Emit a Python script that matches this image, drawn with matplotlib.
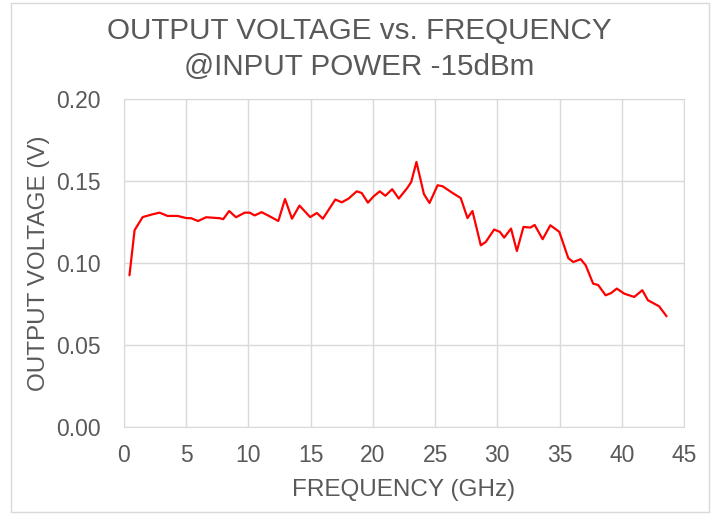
import matplotlib.pyplot as plt
from matplotlib.patches import Rectangle

plt.rcParams['font.family'] = ['Liberation Sans', 'DejaVu Sans']

freq_ghz = [0.44, 0.85, 1.5, 2.3, 2.86, 3.5, 4.3, 5.0, 5.4, 5.95, 6.6, 7.7, 7.97,
            8.45, 9.0, 9.7, 10.1, 10.5, 11.06, 11.7, 12.4, 12.94, 13.5, 14.1,
            14.96, 15.5, 15.98, 16.98, 17.5, 18.05, 18.7, 19.1, 19.6, 20.07,
            20.55, 21.0, 21.55, 22.08, 22.76, 23.08, 23.5, 24.1, 24.55, 25.2,
            25.6, 26.4, 27.06, 27.6, 28.0, 28.67, 29.07, 29.74, 30.2, 30.55,
            31.1, 31.57, 32.1, 32.65, 33.0, 33.64, 34.26, 34.98, 35.7, 36.1,
            36.7, 37.1, 37.7, 38.1, 38.7, 39.15, 39.6, 40.2, 41.0, 41.65, 42.1,
            43.0, 43.6]
out_v = [0.0925, 0.120, 0.128, 0.1297, 0.1307, 0.1287, 0.1287, 0.1274, 0.1273,
         0.1256, 0.1279, 0.1273, 0.1267, 0.1317, 0.1279, 0.1307, 0.1307, 0.129,
         0.131, 0.1285, 0.1256, 0.139, 0.127, 0.135, 0.128, 0.1305, 0.127,
         0.1387, 0.137, 0.1393, 0.1437, 0.1427, 0.1368, 0.1407, 0.1437, 0.141,
         0.145, 0.1393, 0.1457, 0.1494, 0.1616, 0.142, 0.1366, 0.1474, 0.1468,
         0.1427, 0.1396, 0.1274, 0.1317, 0.1108, 0.1128, 0.1204, 0.119, 0.1155,
         0.121, 0.1073, 0.122, 0.1216, 0.1232, 0.1145, 0.123, 0.119, 0.103,
         0.1006, 0.1023, 0.0986, 0.0874, 0.0866, 0.0803, 0.0817, 0.0844,
         0.0813, 0.0793, 0.0834, 0.0773, 0.0736, 0.0675]

x_ticks = [0, 5, 10, 15, 20, 25, 30, 35, 40, 45]
y_ticks = [0.00, 0.05, 0.10, 0.15, 0.20]

text_col = '#595959'
grid_col = '#d9d9d9'

fig = plt.figure(figsize=(7.15, 5.15), dpi=100)
fig.patches.append(Rectangle((11 / 715, 3 / 515), 698 / 715, 509 / 515,
                             transform=fig.transFigure, fill=False,
                             edgecolor=grid_col, linewidth=1))

ax = fig.add_axes([124 / 715, 1 - 427 / 515, 560 / 715, 328 / 515])
ax.plot(freq_ghz, out_v, color='#ff0000', linewidth=1.6,
        solid_joinstyle='round', solid_capstyle='round')

ax.set_xlim(0, 45)
ax.set_ylim(0, 0.20)
ax.set_xticks(x_ticks)
ax.set_yticks(y_ticks)
ax.set_yticklabels([f'{v:.2f}' for v in y_ticks])
ax.grid(True, color=grid_col, linewidth=1)
ax.set_axisbelow(True)
for s in ax.spines.values():
    s.set_color(grid_col)
ax.tick_params(length=0, labelsize=16.5, colors=text_col)
ax.tick_params(axis='y', pad=17)
ax.tick_params(axis='x', pad=12)

ax.set_xlabel('FREQUENCY (GHz)', fontsize=17.5, color=text_col, labelpad=9)
ax.set_ylabel('OUTPUT VOLTAGE (V)', fontsize=17.5, color=text_col, labelpad=4)

fig.text(0.503, 1 - 49 / 515, 'OUTPUT VOLTAGE vs. FREQUENCY\n@INPUT POWER -15dBm',
         ha='center', va='center', fontsize=21.3, color=text_col, linespacing=1.38)

fig.savefig('out.png', dpi=100)
